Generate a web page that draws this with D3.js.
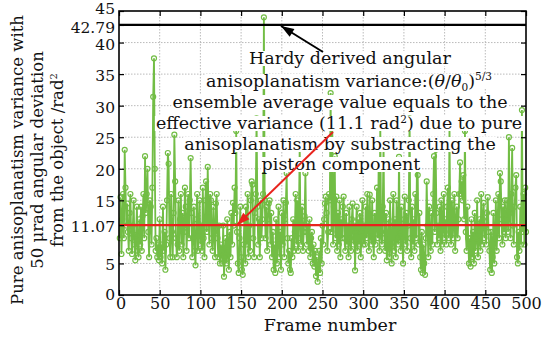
<!DOCTYPE html>
<html><head><meta charset="utf-8">
<script src="https://cdn.jsdelivr.net/npm/d3@7"></script>
<style>body{margin:0;background:#fff}svg{display:block}text{font-family:"DejaVu Serif",serif;fill:#111}</style>
</head><body><svg id="c" width="546" height="337"></svg>
<script>
const values = [
9,15.5,6.5,12,16,9,23,17,11,14.5,10,7,13,16,9,6.5,11,15,8,5.5,9.5,14,7,6,12,
8,14,7,12.5,16,9,22,13,16,20,10,6,15,14,8,17,31.4,37.5,20,7,9,6,8,5.5,12,
6,8,5,14,7,10,4,8,15,22.5,20.8,9,6,16,10,6,13,25.4,18,9,6,8,15,7,12,
16,8,13,6,10,17,14,7,11,16,9,15,21.7,13,6,9,14,7,4.7,12,16,7,10,15,8,
11,7,17,9,6,15,18,10,20.3,13,8,16,15,9,7,14,10,6,14.5,16,9,6,11,5,8,
7,5,11,2.9,6,9,5,12,7,4,10,6,13,8,14.6,11,17,13,26,10,5,3.5,9,14,6,
4,3.2,8,12,5,14,8,16,6,11,7,15,18,17.5,9,6,13,16,28,14,8,12,6,15,9,
12,16,44,15,9,14,7,12,14.5,15,8,13,6,10,4,8,3.5,12,5,9,14,6,10,4,13,
8,15,6,12,14.6,19.3,9,5,7,4,3.5,9,6,12,7,10,16,8,15,7,12,24,9,8,14,
7,10,12.5,19.3,10,8,11,7,12,6,9,10,5,8,4.5,7,3,6,2.1,4,7,3.5,9,5,11,
8,12,14.5,15.6,13,7,10,16,15,32,10,27,8,14,22,9,15.6,7,13,8,15,6,12,9,14,
15.6,9,7,13,8,11,6,14,9,7,12,14.5,8,11,3.9,10,14,7,12,8,13,6,10,15,8,
11,8,14,9,16,11,7,15.9,10,8,15,9,6,13,8,11,17,9,21,7,27,10,8,14,24,
9,7,13,5.5,8,12,6,15,8,5,11,16,7,12,6,15,9,8,21.9,10,7,14,9,5,12,
15.6,8,13,7,11,15,28,9,6,14,8,12,7,16,9,20,19,8,13,6,4,10,3.5,8,5,
3.2,9,18,11,6,14,9,7,13,8,16,22,10,23,13,8,11,9,14,7,15,8,11,16,9,
12,8,14,17,9,27,10,8,15,9,12,16,7,11,14,9,12,16,21,16,18,15,19,12,26,
10,7,14,9,5,9,4.5,12,6,10,5,13,7,9,15,6,10,12,7,16,8,12,14.6,9,11,
8,13,15.5,10,7,4,10,3.5,6,13,5,9,15,7,11,16,9,19.3,18,12,8,14,10,15,9,
12,15,10,25,13,9,16,23.3,11,8,14,17,19,6,5,10,7,14,8,29.3,10,16,8,17,10
];
const frames = values.map((v,i)=>i+1);
const xTicks = [0,50,100,150,200,250,300,350,400,450,500];
const yTicks = [0,5,11.07,15,20,25,30,35,40,42.79,45];
const meanValue = 11.07;
const hardyValue = 42.79;
const xTitle = "Frame number";
const yTitle = ["Pure anisoplanatism variance with","50 μrad angular deviation","from the object /rad"];

const svg = d3.select("#c");
const L=119,R=526,T=11,B=295;
const x = d3.scaleLinear().domain([0,500]).range([L,R]);
const y = d3.scaleLinear().domain([0,45]).range([B,T]);
const green="#72bd45";

// grid
const g = svg.append("g");
g.selectAll(".gx").data(xTicks.slice(1,-1)).enter().append("line")
 .attr("x1",d=>x(d)).attr("x2",d=>x(d)).attr("y1",T).attr("y2",B)
 .attr("stroke","#aaa").attr("stroke-width",0.8).attr("stroke-dasharray","1.5,1.5");
g.selectAll(".gy").data(yTicks.slice(1,-1)).enter().append("line")
 .attr("y1",d=>y(d)).attr("y2",d=>y(d)).attr("x1",L).attr("x2",R)
 .attr("stroke","#aaa").attr("stroke-width",0.8).attr("stroke-dasharray","1.5,1.5");

// data
const pts = frames.map((f,i)=>[f,values[i]]);
svg.append("path").datum(pts)
 .attr("d",d3.line().x(d=>x(d[0])).y(d=>y(d[1])))
 .attr("fill","none").attr("stroke",green).attr("stroke-width",1.8);
svg.append("g").selectAll("circle").data(pts).enter().append("circle")
 .attr("cx",d=>x(d[0])).attr("cy",d=>y(d[1])).attr("r",2.5)
 .attr("fill","none").attr("stroke",green).attr("stroke-width",1.2);

// reference lines
svg.append("line").attr("x1",L).attr("x2",R).attr("y1",y(meanValue)).attr("y2",y(meanValue))
 .attr("stroke","#e8231d").attr("stroke-width",2.2);
svg.append("line").attr("x1",L).attr("x2",R).attr("y1",y(hardyValue)).attr("y2",y(hardyValue))
 .attr("stroke","#000").attr("stroke-width",2.2);

// axes
const fmt = d=> (d===11.07||d===42.79)? d.toFixed(2) : String(d);
const axb = svg.append("g").attr("transform",`translate(0,${B})`)
 .call(d3.axisBottom(x).tickValues(xTicks).tickSizeInner(-5).tickSizeOuter(0).tickPadding(3));
const ay = svg.append("g").attr("transform",`translate(${L},0)`)
 .call(d3.axisLeft(y).tickValues(yTicks).tickFormat(fmt).tickSizeInner(-5).tickSizeOuter(0).tickPadding(4));
svg.append("g").attr("transform",`translate(0,${T})`)
 .call(d3.axisTop(x).tickValues(xTicks).tickFormat("").tickSizeInner(-5).tickSizeOuter(0));
svg.append("g").attr("transform",`translate(${R},0)`)
 .call(d3.axisRight(y).tickValues(yTicks).tickFormat("").tickSizeInner(-5).tickSizeOuter(0));
svg.selectAll(".domain").remove();
svg.selectAll(".tick line").attr("stroke","#000").attr("stroke-width",1.2);
svg.selectAll(".tick text").style("font-family","DejaVu Serif").style("font-size","16px").attr("fill","#111");
axb.selectAll(".tick text").attr("dx",d=> d===0 ? 1.5 : 0);
ay.selectAll(".tick text").style("font-size","15.5px")
  .attr("dy",d=> d===45 ? "0.15em" : d===42.79 ? "0.5em" : d===0 ? "0.3em" : "0.42em");
svg.append("rect").attr("x",L).attr("y",T).attr("width",R-L).attr("height",B-T)
 .attr("fill","none").attr("stroke","#000").attr("stroke-width",1.6);

// titles
svg.append("text").attr("x",330).attr("y",331).attr("text-anchor","middle").style("font-size","17.5px").text(xTitle);
const yt = svg.append("g");
[17,37,57].forEach((cx,i)=>{
  const t = yt.append("text").attr("transform",`translate(${cx+6},160) rotate(-90)`)
   .attr("text-anchor","middle").style("font-size","16.5px").text(yTitle[i]);
  if(i===2) t.append("tspan").attr("dy",-6).style("font-size","10px").text("2");
});

// annotations
const ann = svg.append("g");
function line(cx,by,build){
  const grp = ann.append("g");
  const rect = grp.append("rect").attr("fill","#fff");
  const t = grp.append("text").attr("x",cx).attr("y",by).attr("text-anchor","middle").style("font-size","17.5px");
  build(t);
  const bb = t.node().getBBox();
  rect.attr("x",bb.x-1).attr("y",by-13).attr("width",bb.width+2).attr("height",15);
}
line(350,64,t=>t.text("Hardy derived angular"));
line(349,87,t=>{
  t.append("tspan").text("anisoplanatism variance:(");
  t.append("tspan").style("font-style","italic").text("θ");
  t.append("tspan").text("/");
  t.append("tspan").style("font-style","italic").text("θ");
  t.append("tspan").attr("dy",4).style("font-size","10.5px").text("0");
  t.append("tspan").attr("dy",-4).text(")");
  t.append("tspan").attr("dy",-7).style("font-size","10.5px").text("5/3");
});
line(340,108,t=>t.text("ensemble average value equals to the"));
line(339,129,t=>{
  t.append("tspan").text("effective variance (11.1 rad");
  t.append("tspan").attr("dy",-6).style("font-size","10.5px").text("2");
  t.append("tspan").attr("dy",6).text(") due to pure");
});
line(340,150,t=>t.text("anisoplanatism by substracting the"));
line(341,170,t=>t.text("piston component"));

// arrows
function arrow(x1,y1,x2,y2,col){
  svg.append("line").attr("x1",x1).attr("y1",y1).attr("x2",x2).attr("y2",y2)
   .attr("stroke",col).attr("stroke-width",2);
  const a=Math.atan2(y2-y1,x2-x1), len=13, w=4.5;
  const bx=x2-len*Math.cos(a), by=y2-len*Math.sin(a);
  const p=[[x2,y2],[bx+w*Math.sin(a),by-w*Math.cos(a)],[bx-w*Math.sin(a),by+w*Math.cos(a)]];
  svg.append("path").attr("d","M"+p.join("L")+"Z").attr("fill",col);
}
arrow(323,52,281,26,"#000");
arrow(333,132,237,225,"#e8231d");
</script></body></html>
